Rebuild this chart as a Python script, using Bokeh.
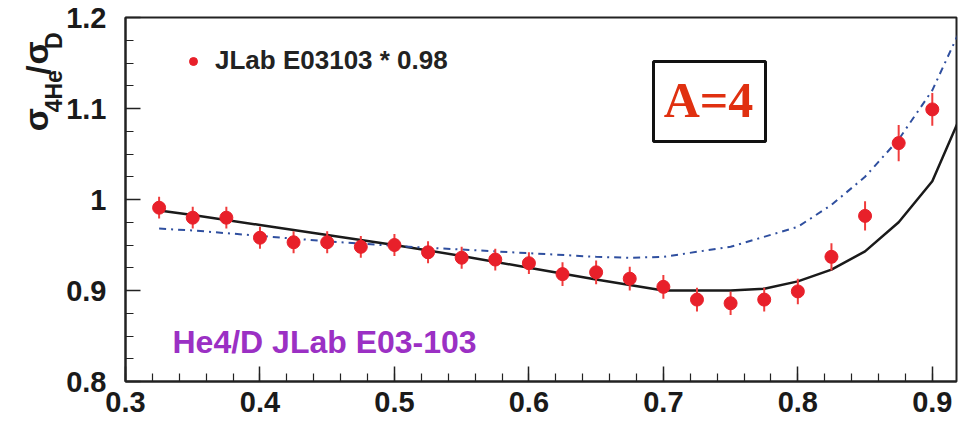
import math
from bokeh.plotting import figure
from bokeh.layouts import row
from bokeh.models import (FixedTicker, CustomJSTickFormatter, Label, BoxAnnotation,
                          Legend, LegendItem, Range1d)
from bokeh.core.properties import value
from bokeh.embed import file_html
from bokeh.resources import INLINE

# ---- data ----
x_data = [0.325, 0.35, 0.375, 0.4, 0.425, 0.45, 0.475, 0.5, 0.525, 0.55, 0.575, 0.6,
          0.625, 0.65, 0.675, 0.7, 0.725, 0.75, 0.775, 0.8, 0.825, 0.85, 0.875, 0.9]
ratio = [0.991, 0.980, 0.980, 0.958, 0.953, 0.953, 0.948, 0.950, 0.942, 0.936, 0.934, 0.930,
         0.918, 0.920, 0.913, 0.904, 0.890, 0.886, 0.890, 0.899, 0.937, 0.982, 1.062, 1.099]
err = [0.012, 0.012, 0.012, 0.012, 0.012, 0.012, 0.012, 0.012, 0.012, 0.012, 0.012, 0.012,
       0.013, 0.013, 0.013, 0.013, 0.013, 0.013, 0.013, 0.014, 0.015, 0.016, 0.020, 0.018]

solid_x = [0.325, 0.35, 0.4, 0.45, 0.5, 0.55, 0.6, 0.65, 0.7, 0.75, 0.775, 0.8,
           0.825, 0.85, 0.875, 0.9, 0.925]
solid_y = [0.988, 0.983, 0.972, 0.961, 0.950, 0.938, 0.925, 0.912, 0.900, 0.900, 0.902, 0.910,
           0.923, 0.943, 0.975, 1.020, 1.105]

dash_x = [0.325, 0.35, 0.4, 0.45, 0.5, 0.55, 0.6, 0.65, 0.675, 0.7, 0.75, 0.8,
          0.825, 0.85, 0.875, 0.9, 0.925]
dash_y = [0.968, 0.966, 0.960, 0.954, 0.949, 0.945, 0.941, 0.937, 0.936, 0.937, 0.948, 0.970,
          0.994, 1.025, 1.066, 1.120, 1.200]

x_ticks = [0.3, 0.4, 0.5, 0.6, 0.7, 0.8, 0.9]
y_ticks = [0.8, 0.9, 1.0, 1.1, 1.2]

legend_label = "JLab E03103 * 0.98"
panel_label = "A=4"
title_label = "He4/D JLab E03-103"
ytitle_parts = ["\u03c3", "4He", "/", "\u03c3", "D"]

W, H = 968, 426
LW = 63            # width of the strip holding the rotated y title
FL, FB = 125, 381  # frame left / bottom in page pixels (annotation screen units are frame-relative)


def fx(px):
    return px - FL


def fy(py):
    return FB - py


# ---- strip with the y-axis title (pixel-mapped ranges, y measured upward) ----
lab = figure(width=LW, height=H, x_range=Range1d(0, LW), y_range=Range1d(0, H),
             output_backend="svg", toolbar_location=None,
             min_border_left=0, min_border_right=0, min_border_top=0, min_border_bottom=0)
lab.axis.visible = False
lab.grid.visible = False
lab.outline_line_color = None
lab.background_fill_color = "white"
lab.border_fill_color = "white"
# baseline positions (page px); rendered baseline sits ~0.37em off, compensated below
piece_x = [48, 62, 50, 48, 62]
piece_y = [133, 111, 67, 55, 37]
piece_fs = [34, 23, 34, 34, 23]
for txt, px, py, fs in zip(ytitle_parts, piece_x, piece_y, piece_fs):
    lab.text(x=[px - 0.37 * fs], y=[H - py], text=[txt], angle=math.pi / 2, text_align="left",
             text_baseline="alphabetic", text_font=value("Liberation Sans"),
             text_font_style="bold", text_font_size=f"{fs}px", text_color="#1a1a1a")

# ---- main plot ----
fig = figure(width=W - LW, height=H, x_range=(0.3, 0.918), y_range=(0.8, 1.2),
             output_backend="svg", toolbar_location=None,
             min_border_left=FL - LW, min_border_right=12, min_border_top=17, min_border_bottom=45)
fig.xgrid.visible = False
fig.ygrid.visible = False
fig.outline_line_color = "#222222"
fig.outline_line_width = 2
fig.outline_line_alpha = 1.0
fig.background_fill_color = "white"
fig.border_fill_color = "white"

fmt = CustomJSTickFormatter(code="return tick.toFixed(1).replace(/\\.0$/, '');")
fig.xaxis.ticker = FixedTicker(ticks=x_ticks, minor_ticks=[round(0.3 + 0.02 * i, 2) for i in range(32)])
fig.yaxis.ticker = FixedTicker(ticks=y_ticks, minor_ticks=[round(0.8 + 0.025 * i, 3) for i in range(17)])
for ax in (fig.xaxis[0], fig.yaxis[0]):
    ax.formatter = fmt
    ax.major_tick_in = 15
    ax.major_tick_out = 0
    ax.minor_tick_in = 8
    ax.minor_tick_out = 0
    ax.axis_line_width = 2
    ax.axis_line_color = "#222222"
    ax.major_tick_line_color = "#222222"
    ax.minor_tick_line_color = "#222222"
    ax.major_tick_line_width = 1.5
    ax.minor_tick_line_width = 1.2
    ax.major_label_text_font = "Liberation Sans"
    ax.major_label_text_font_style = "bold"
    ax.major_label_text_font_size = "29px"
    ax.major_label_text_color = "#1a1a1a"
fig.xaxis.major_label_standoff = 10
fig.yaxis.major_label_standoff = 19

# theory curves
fig.line(solid_x, solid_y, line_color="#1a1a1a", line_width=2.5)
fig.line(dash_x, dash_y, line_color="#2f4f9f", line_width=2, line_dash="7 5 2 5")

# data with error bars
lo = [v - e for v, e in zip(ratio, err)]
hi = [v + e for v, e in zip(ratio, err)]
fig.segment(x_data, lo, x_data, hi, line_color="#f03c3c", line_width=2)
r = fig.scatter(x_data, ratio, size=13, fill_color="#e8202a", line_color="#e8202a")

legend = Legend(items=[LegendItem(label=legend_label, renderers=[r])],
                location=(58, 305), border_line_color=None, background_fill_alpha=0,
                padding=0, margin=0, glyph_width=20, glyph_height=26, label_height=26,
                label_standoff=12, label_text_font="Liberation Sans",
                label_text_font_style="bold", label_text_font_size="26px",
                label_text_color="#222222")
fig.add_layout(legend)

# A=4 box
fig.add_layout(BoxAnnotation(left=fx(653), right=fx(765), top=fy(61), bottom=fy(141),
                             left_units="screen", right_units="screen",
                             top_units="screen", bottom_units="screen",
                             fill_color="white", fill_alpha=1.0,
                             line_color="#111111", line_width=3, line_alpha=1.0))
fig.add_layout(Label(x=fx(708), y=fy(99), x_units="screen", y_units="screen", text=panel_label,
                     text_align="center", text_baseline="alphabetic",
                     text_font="Liberation Serif", text_font_style="bold",
                     text_font_size="50px", text_color="#e03010"))

# purple caption
fig.add_layout(Label(x=fx(172), y=fy(341), x_units="screen", y_units="screen", text=title_label,
                     text_align="left", text_baseline="alphabetic",
                     text_font="Liberation Sans", text_font_style="bold",
                     text_font_size="32px", text_color="#9b30c4"))

p = row(lab, fig)
open("out.html", "w").write(file_html(p, INLINE))
